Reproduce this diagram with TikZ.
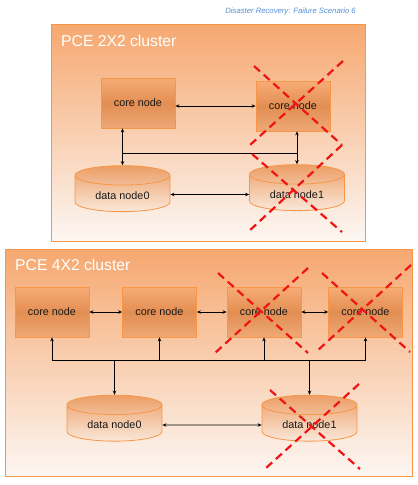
\documentclass[tikz,border=0pt]{standalone}
\usepackage{fontspec}
\setmainfont{Liberation Sans}
\usetikzlibrary{shapes.geometric,arrows.meta}
\definecolor{panelline}{RGB}{247,150,70}
\definecolor{paneltop}{RGB}{246,168,112}
\definecolor{panelbot}{RGB}{252,246,242}
\definecolor{boxtop}{RGB}{247,172,118}
\definecolor{boxmid}{RGB}{226,142,82}
\definecolor{boxbot}{RGB}{238,168,118}
\definecolor{cyltop}{RGB}{236,158,102}
\definecolor{cylbot}{RGB}{250,232,218}
\definecolor{titleblue}{RGB}{85,142,213}
\definecolor{failred}{RGB}{240,20,20}
\tikzset{
  core/.style={draw=panelline, line width=0.8pt, minimum width=74pt, minimum height=50pt,
    top color=boxtop, bottom color=boxbot, middle color=boxmid,
    font=\fontsize{10.8}{12}\selectfont, text=black!90},
  data/.style={cylinder, shape border rotate=90, shape aspect=0.32, draw=panelline, line width=0.8pt,
    minimum width=95pt, minimum height=46pt, top color=cyltop, bottom color=cylbot,
    font=\fontsize{10.8}{12}\selectfont, text=black!90},
  link/.style={line width=0.8pt, {Stealth[length=4pt,width=3.5pt]}-{Stealth[length=4pt,width=3.5pt]}},
  uplink/.style={line width=0.8pt, -{Stealth[length=4pt,width=3.5pt]}},
  bus/.style={line width=0.8pt},
  failx/.style={failred, line width=2.2pt, dash pattern=on 8pt off 5pt},
  paneltitle/.style={text=white, font=\fontsize{15.7}{18}\selectfont, anchor=base west, inner sep=0pt}
}
\begin{document}
\begin{tikzpicture}[x=1pt, y=-1pt]
  \useasboundingbox (0,0) rectangle (418,485);

  \node [anchor=base east, inner sep=0pt, text=titleblue, font=\itshape\fontsize{7.7}{9}\selectfont] (caption) at (356,13) {Disaster Recovery: Failure Scenario 6};

  \shade [top color=paneltop, bottom color=panelbot, draw=panelline, line width=0.8pt] (51,24) rectangle (365,241);
  \shade [top color=paneltop, bottom color=panelbot, draw=panelline, line width=0.8pt] (5,249) rectangle (412,476);

  \node [paneltitle] (title1) at (61,46) {PCE 2X2 cluster};
  \node [paneltitle] (title2) at (15,270) {PCE 4X2 cluster};

  \node [core] (a0) at (138,103) {core node};
  \node [core] (a1) at (293,106) {core node};
  \node [data] (b0) at (122.5,195.5) {data node0};
  \node [data] (b1) at (297,194.5) {data node1};

  \coordinate (abus) at (0,153);
  \draw [link] (a0.east |- a1) -- (a1);
  \draw [link] (b0.east |- b1) -- (b1);
  \draw [link] (b0.north |- a0.south) -- (b0.north);
  \draw [link] (b1.north |- a1.south) -- (b1.north);
  \draw [bus] (b0.north |- abus) -- (b1.north |- abus);

  \node [core] (c0) at (52,312) {core node};
  \node [core] (c1) at (159.5,312) {core node};
  \node [core] (c2) at (264,312) {core node};
  \node [core] (c3) at (365.5,312) {core node};
  \node [data] (d0) at (114.5,425) {data node0};
  \node [data] (d1) at (309.5,425) {data node1};

  \coordinate (cbus) at (0,360);
  \draw [link] (c0) -- (c1);
  \draw [link] (c1) -- (c2);
  \draw [link] (c2) -- (c3);
  \draw [link] (d0) -- (d1);
  \draw [bus] (c0.south |- cbus) -- (c3.south |- cbus);
  \foreach \n in {c0,c1,c2,c3}
    \draw [uplink] (\n.south |- cbus) -- (\n.south);
  \foreach \n in {d0,d1}
    \draw [uplink] (\n.north |- cbus) -- (\n.north);

  \draw [failx] (254,66) -- (342,145);
  \draw [failx] (343,61) -- (250,145);
  \draw [failx] (252,154) -- (342,232);
  \draw [failx] (342,145) -- (248,232);

  \draw [failx] (218,273) -- (308,353);
  \draw [failx] (308,268) -- (215,353);
  \draw [failx] (322,273) -- (410,352);
  \draw [failx] (411,265) -- (317,351);
  \draw [failx] (270,390) -- (360,469);
  \draw [failx] (359,384) -- (266,468);
\end{tikzpicture}
\end{document}
